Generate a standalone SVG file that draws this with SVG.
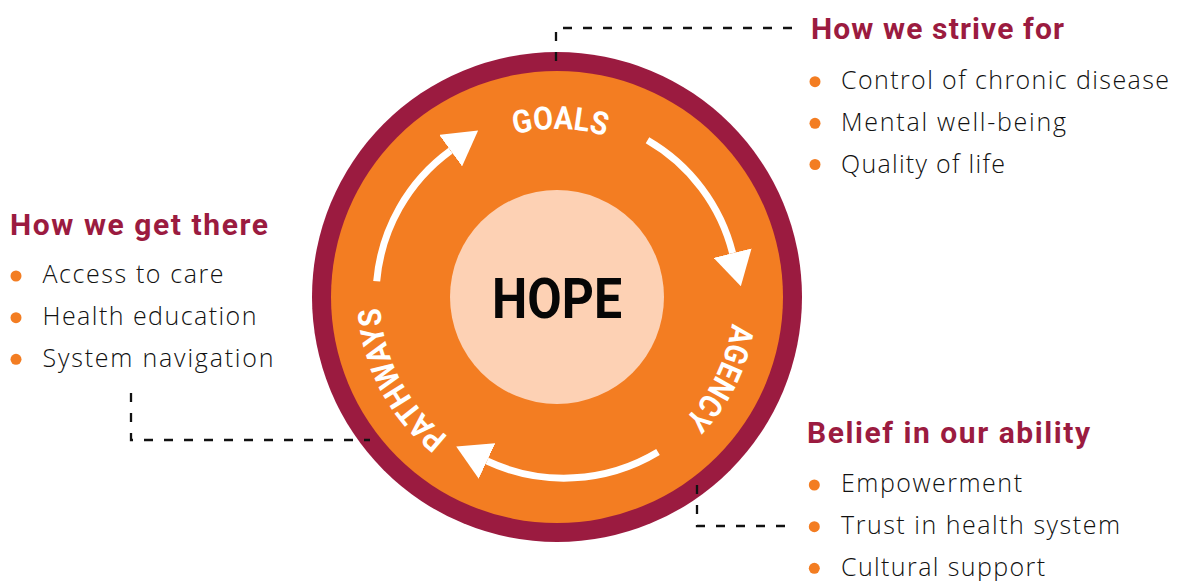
<svg xmlns="http://www.w3.org/2000/svg" width="1179" height="581" viewBox="0 0 1179 581">
<style>
.head{font-family:Roboto,"Liberation Sans",sans-serif;font-weight:700;font-size:30px;fill:#9B1B40}
.item{font-family:"Open Sans","Liberation Sans",sans-serif;font-weight:300;font-size:25px;fill:#111}
.dot{fill:#F37D22}
.lbl{font-family:Roboto,"Liberation Sans",sans-serif;font-weight:700;font-size:32px;fill:#fff}
.dash{fill:none;stroke:#111;stroke-width:2.3;stroke-dasharray:9 11}
.cyc{fill:none;stroke:#fff;stroke-width:7}
</style>
<defs>
<marker id="head" viewBox="0 0 34 39" refX="0" refY="19.5" markerUnits="userSpaceOnUse" markerWidth="34" markerHeight="39" orient="auto">
<path d="M0,0 L34,19.5 L0,39 Z" fill="#fff"/>
</marker>
<path id="arcG" d="M389 297 A168 168 0 1 1 725 297 A168 168 0 1 1 389 297"/>
<path id="arcL" d="M380 297 A177 177 0 1 1 734 297 A177 177 0 1 1 380 297"/>
</defs>
<rect width="1179" height="581" fill="#fff"/>

<g id="hope-wheel">
<circle cx="557" cy="297" r="245" fill="#9B1B40"/>
<circle cx="557" cy="297" r="226" fill="#F37D22"/>
</g>

<g id="connectors">
<path class="dash" d="M556 61 V28 H792"/>
<path class="dash" d="M131 393 V440 H370"/>
<path class="dash" d="M697 485 V526 H793"/>
</g>

<g id="cycle">
<path class="cyc" marker-end="url(#head)" d="M376.7 281.2 A181 181 0 0 1 450.6 150.6"/>
<path class="cyc" marker-end="url(#head)" d="M647.5 140.3 A181 181 0 0 1 732.6 253.2"/>
<path class="cyc" marker-end="url(#head)" d="M658 452 A182 182 0 0 1 487 461"/>
</g>

<g id="goals">
<text class="lbl" text-anchor="middle"><textPath href="#arcG" startOffset="267" textLength="92" lengthAdjust="spacingAndGlyphs">GOALS</textPath></text>
</g>
<g id="agency">
<text class="lbl" text-anchor="middle"><textPath href="#arcL" startOffset="637" textLength="109" lengthAdjust="spacingAndGlyphs">AGENCY</textPath></text>
</g>
<g id="pathways">
<text class="lbl" text-anchor="middle"><textPath href="#arcL" startOffset="1026" textLength="150" lengthAdjust="spacingAndGlyphs">PATHWAYS</textPath></text>
</g>

<g id="hope">
<circle cx="557" cy="297" r="107" fill="#FDD1B4"/>
<text x="492" y="318" font-family="Roboto,'Liberation Sans',sans-serif" font-weight="700" font-size="56" fill="#060606" textLength="130" lengthAdjust="spacingAndGlyphs">HOPE</text>
</g>

<g id="how-we-strive-for">
<text class="head" x="811" y="39" textLength="253">How we strive for</text>
<circle class="dot" cx="815" cy="81.7" r="5.5"/>
<text class="item" x="841" y="89" textLength="328">Control of chronic disease</text>
<circle class="dot" cx="815" cy="123.3" r="5.5"/>
<text class="item" x="841" y="131" textLength="225">Mental well-being</text>
<circle class="dot" cx="815" cy="164.5" r="5.5"/>
<text class="item" x="841" y="172.5" textLength="164">Quality of life</text>
</g>

<g id="how-we-get-there">
<text class="head" x="10" y="235" textLength="258">How we get there</text>
<circle class="dot" cx="16" cy="276" r="5.5"/>
<text class="item" x="42.5" y="283.3" textLength="181">Access to care</text>
<circle class="dot" cx="16" cy="317.7" r="5.5"/>
<text class="item" x="42.5" y="325" textLength="214">Health education</text>
<circle class="dot" cx="16" cy="359.3" r="5.5"/>
<text class="item" x="42.5" y="366.7" textLength="231">System navigation</text>
</g>

<g id="belief-in-our-ability">
<text class="head" x="807" y="443" textLength="283">Belief in our ability</text>
<circle class="dot" cx="814.3" cy="485" r="5.5"/>
<text class="item" x="841" y="492.3" textLength="181">Empowerment</text>
<circle class="dot" cx="814.3" cy="526.7" r="5.5"/>
<text class="item" x="841" y="534" textLength="279">Trust in health system</text>
<circle class="dot" cx="814.3" cy="568.3" r="5.5"/>
<text class="item" x="841" y="575.6" textLength="204">Cultural support</text>
</g>
</svg>
